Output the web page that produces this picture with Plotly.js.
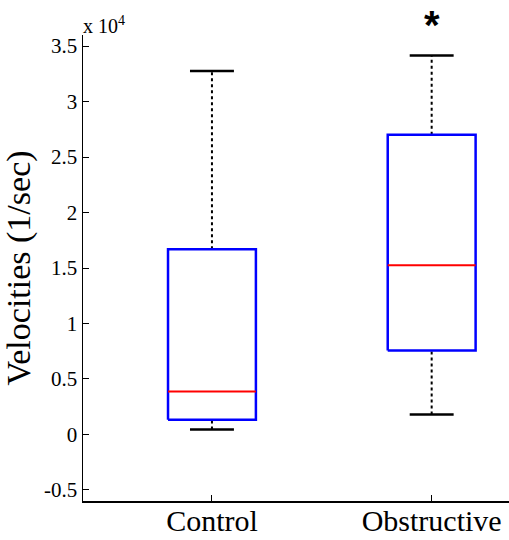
<!DOCTYPE html>
<html>
<head>
<meta charset="utf-8">
<script src="https://cdn.plot.ly/plotly-3.0.1.min.js"></script>
<style>html,body{margin:0;padding:0;background:#fff;}#chart{width:509px;height:540px;}</style>
</head>
<body>
<div id="chart"></div>
<script>
// Data (velocities, 1/sec)
const categories = ["Control", "Obstructive"];
const lowerWhisker = [450, 1800];
const q1 = [1330, 7570];
const medians = [3860, 15250];
const q3 = [16700, 27000];
const upperWhisker = [32750, 34150];
const yTickVals = [-5000, 0, 5000, 10000, 15000, 20000, 25000, 30000, 35000];
const yTickText = ["-0.5", "0", "0.5", "1", "1.5", "2", "2.5", "3", "3.5"];
const significance = ["", "*"];

const SERIF = 'Liberation Serif';
const boxHalf = 0.2, capHalf = 0.1;
const traces = [];
categories.forEach((c, i) => {
  const x = i + 1;
  traces.push({x: [x, x], y: [q3[i], upperWhisker[i]], mode: 'lines', line: {color: '#000', width: 2, dash: 'dot'}, hoverinfo: 'skip'});
  traces.push({x: [x, x], y: [lowerWhisker[i], q1[i]], mode: 'lines', line: {color: '#000', width: 2, dash: 'dot'}, hoverinfo: 'skip'});
  traces.push({x: [x - capHalf, x + capHalf], y: [upperWhisker[i], upperWhisker[i]], mode: 'lines', line: {color: '#000', width: 2.5}, hoverinfo: 'skip'});
  traces.push({x: [x - capHalf, x + capHalf], y: [lowerWhisker[i], lowerWhisker[i]], mode: 'lines', line: {color: '#000', width: 2.5}, hoverinfo: 'skip'});
  traces.push({x: [x - boxHalf, x + boxHalf, x + boxHalf, x - boxHalf, x - boxHalf], y: [q1[i], q1[i], q3[i], q3[i], q1[i]], mode: 'lines', line: {color: '#0000ff', width: 2.5}, hoverinfo: 'skip'});
  traces.push({x: [x - boxHalf, x + boxHalf], y: [medians[i], medians[i]], mode: 'lines', line: {color: '#ff0000', width: 2}, hoverinfo: 'skip'});
});

const annotations = [{x: 0, y: 1, xref: 'paper', yref: 'paper', xanchor: 'left', yanchor: 'bottom', xshift: -2, yshift: -4,
  text: 'x 10<sup>4</sup>', showarrow: false, font: {family: SERIF, size: 20, color: '#000'}}];
categories.forEach((c, i) => {
  if (significance[i]) {
    annotations.push({x: i + 1, y: 1.073, xref: 'x', yref: 'paper', xanchor: 'center', yanchor: 'top',
      text: '<b>' + significance[i] + '</b>', showarrow: false, font: {family: 'Liberation Sans', size: 40, color: '#000'}});
  }
});

const layout = {
  width: 509, height: 540,
  margin: {l: 83, r: 0, t: 35, b: 39},
  paper_bgcolor: '#fff', plot_bgcolor: '#fff',
  showlegend: false,
  font: {family: SERIF, color: '#000'},
  xaxis: {
    range: [0.413, 2.352], tickvals: [1, 2], ticktext: categories,
    ticks: 'inside', ticklen: 6, tickwidth: 1, tickcolor: '#000',
    showline: true, linecolor: '#000', linewidth: 1.5, showgrid: false, zeroline: false,
    ticklabelstandoff: -8,
    tickfont: {size: 30, family: SERIF, color: '#000'}
  },
  yaxis: {
    range: [-6000, 36000], tickvals: yTickVals, ticktext: yTickText,
    ticks: 'inside', ticklen: 6, tickwidth: 1, tickcolor: '#000',
    showline: true, linecolor: '#000', linewidth: 1.5, showgrid: false, zeroline: false,
    tickfont: {size: 21, family: SERIF, color: '#000'},
    title: {text: 'Velocities (1/sec)', font: {size: 34, family: SERIF, color: '#000'}, standoff: 6}
  },
  annotations: annotations
};

Plotly.newPlot('chart', traces, layout, {displayModeBar: false, staticPlot: true});
</script>
</body>
</html>
